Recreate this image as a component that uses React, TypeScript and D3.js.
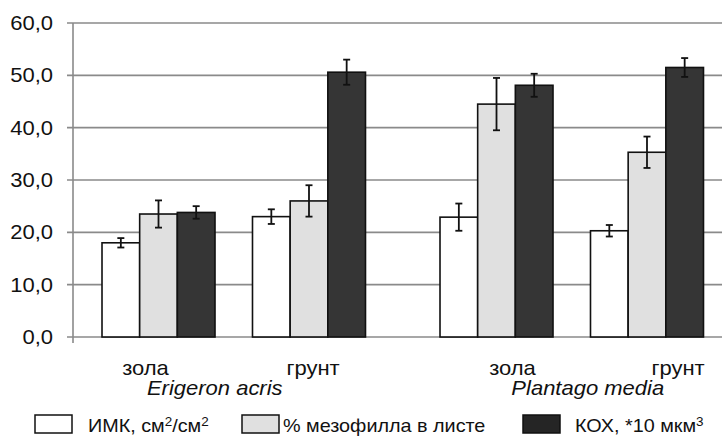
import React from 'react';
import * as d3 from 'd3';

const species = ['Erigeron acris', 'Plantago media'];
const soils = ['зола', 'грунт'];
const seriesNames = ['ИМК, см²/см²', '% мезофилла в листе', 'КОХ, *10 мкм³'];
const seriesColors = ['#ffffff', '#e0e0e0', '#353535'];
const legendColors = ['#ffffff', '#e0e0e0', '#252525'];

// values per series, order: E.acris зола, E.acris грунт, P.media зола, P.media грунт
const imk = [18.0, 23.0, 22.9, 20.3];
const imkErr = [0.9, 1.4, 2.6, 1.1];
const mesophyll = [23.5, 26.0, 44.5, 35.3];
const mesophyllErr = [2.6, 3.0, 5.0, 3.0];
const kox = [23.8, 50.6, 48.1, 51.5];
const koxErr = [1.2, 2.4, 2.2, 1.8];

const yTicks = [0, 10, 20, 30, 40, 50, 60];

const width = 722;
const height = 436;
const font = '"Liberation Sans", Arial, sans-serif';
const stretch = 1.1; // source figure is a bit wider than tall

// split "см²" style superscripts into tspans
const withSup = (s: string) =>
  s.split(/([²³])/).map((part, i) =>
    part === '²' || part === '³' ? (
      <tspan key={i} fontSize="0.68em" dy="-0.5em">
        {part === '²' ? '2' : '3'}
      </tspan>
    ) : (
      <tspan key={i} dy={i > 0 ? '0.34em' : 0}>
        {part}
      </tspan>
    )
  );

const App = () => {
  const values = [imk, mesophyll, kox];
  const errors = [imkErr, mesophyllErr, koxErr];

  const y = d3.scaleLinear().domain([0, 60]).range([337, 23]);
  const axisX = 73;

  // species -> soil -> series
  const xSpecies = d3.scaleBand().domain(species).range([64.75, 740.75]);
  const xSoil = d3.scalePoint().domain(soils).range([0, xSpecies.bandwidth()]).padding(0.623);
  const xSeries = d3.scaleBand().domain(seriesNames).range([-56.5, 56.5]);

  const center = (i: number) => {
    const sp = species[Math.floor(i / 2)];
    const so = soils[i % 2];
    return (xSpecies(sp) ?? 0) + (xSoil(so) ?? 0);
  };

  // manual label nudges, as in the source figure
  const soilLabelShift = [-13, 4, 16, 31];
  const speciesLabelShift = [-19, 16];

  const fmt = (v: number) => v.toFixed(1).replace('.', ',');

  return (
    <svg
      width={width}
      height={height}
      style={{ position: 'absolute', left: 0, top: 0, background: '#fff' }}
      fontFamily={font}
    >
      {/* grid */}
      {yTicks.map((t) => (
        <g key={t}>
          <line x1={axisX - 6} x2={width} y1={y(t)} y2={y(t)} stroke="#8a8a8a" strokeWidth={1.6} />
          <text
            transform={`translate(53,${y(t)}) scale(${stretch},1)`}
            dy="0.35em"
            textAnchor="end"
            fontSize={20}
            fill="#111"
          >
            {fmt(t)}
          </text>
        </g>
      ))}
      <line x1={axisX} x2={axisX} y1={y(60)} y2={y(0) + 6} stroke="#8a8a8a" strokeWidth={1.6} />

      {/* bars */}
      {values.map((vals, s) =>
        vals.map((v, i) => {
          const x0 = center(i) + (xSeries(seriesNames[s]) ?? 0);
          const bw = xSeries.bandwidth();
          const cx = x0 + bw / 2;
          const e = errors[s][i];
          return (
            <g key={`${s}-${i}`}>
              <rect
                x={x0}
                y={y(v)}
                width={bw}
                height={y(0) - y(v)}
                fill={seriesColors[s]}
                stroke="#111"
                strokeWidth={1.6}
              />
              <line x1={cx} x2={cx} y1={y(v + e)} y2={y(v - e)} stroke="#111" strokeWidth={1.8} />
              <line x1={cx - 3.5} x2={cx + 3.5} y1={y(v + e)} y2={y(v + e)} stroke="#111" strokeWidth={1.8} />
              <line x1={cx - 3.5} x2={cx + 3.5} y1={y(v - e)} y2={y(v - e)} stroke="#111" strokeWidth={1.8} />
            </g>
          );
        })
      )}

      {/* category labels */}
      {[0, 1, 2, 3].map((i) => (
        <text
          key={i}
          transform={`translate(${center(i) + soilLabelShift[i]},375) scale(${stretch},1)`}
          textAnchor="middle"
          fontSize={20}
          fill="#111"
        >
          {soils[i % 2]}
        </text>
      ))}
      {species.map((sp, k) => (
        <text
          key={sp}
          transform={`translate(${(xSpecies(sp) ?? 0) + xSpecies.bandwidth() / 2 + speciesLabelShift[k]},395) scale(${stretch},1)`}
          textAnchor="middle"
          fontSize={20}
          fontStyle="italic"
          fill="#111"
        >
          {sp}
        </text>
      ))}

      {/* legend */}
      {seriesNames.map((name, s) => {
        const lx = [35, 242, 523][s];
        const tx = [53, 41, 52][s];
        return (
          <g key={name} transform={`translate(${lx},415)`}>
            <rect width={37} height={18} fill={legendColors[s]} stroke="#111" strokeWidth={1.5} />
            <text transform={`translate(${tx},17) scale(${stretch},1)`} fontSize={18} fill="#111">
              {withSup(name)}
            </text>
          </g>
        );
      })}
    </svg>
  );
};

export default App;
